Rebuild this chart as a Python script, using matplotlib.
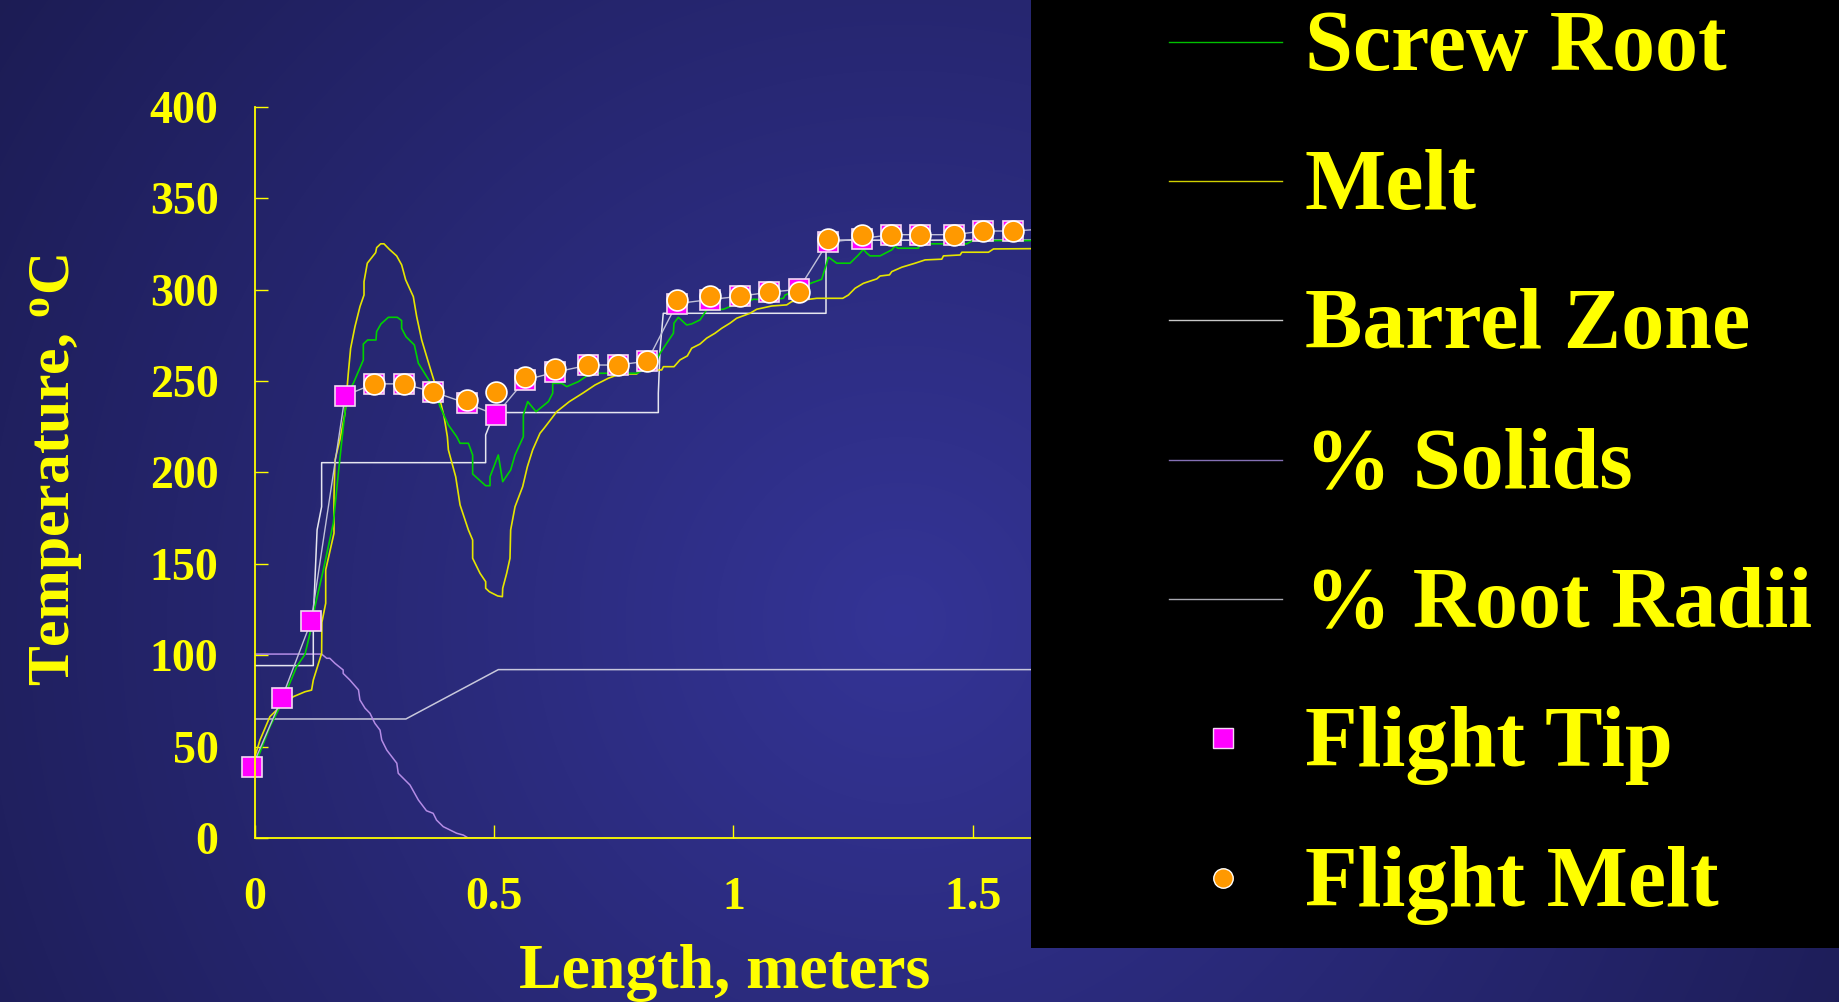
import numpy as np
import matplotlib.pyplot as plt

plt.rcParams['font.family'] = ['Liberation Serif', 'DejaVu Serif']
plt.rcParams['font.weight'] = 'bold'
plt.rcParams['mathtext.fontset'] = 'custom'
plt.rcParams['mathtext.rm'] = 'Liberation Serif:bold'
plt.rcParams['mathtext.it'] = 'Liberation Serif:bold'
plt.rcParams['mathtext.bf'] = 'Liberation Serif:bold'

YELLOW = '#ffff00'

# flight positions along the screw (m) and temperatures (C)
flight_x = [-0.005, 0.057, 0.118, 0.189, 0.249, 0.311, 0.373, 0.443, 0.504, 0.565,
            0.627, 0.697, 0.758, 0.820, 0.882, 0.951, 1.013, 1.074, 1.136, 1.198,
            1.268, 1.329, 1.390, 1.461, 1.522, 1.583, 1.645]
flight_tip = [39, 76.6, 118.5, 242, 248.4, 248.4, 244, 237.8, 231.4, 250.5,
              254.7, 258.7, 258.7, 260.8, 292.3, 294.5, 296.3, 298.5, 300.1, 326,
              327.8, 330, 330, 330, 332, 332, 333]
flight_melt_x = flight_x[4:26]
flight_melt = [248.4, 248.4, 244, 239.6, 244, 252.4, 256.6, 258.7, 258.7, 260.8,
               294.3, 296.4, 296.3, 298.5, 298.5, 327.7, 329.9, 330, 330, 330,
               332.2, 332]

melt_x = [0.0, 0.0113, 0.032, 0.0531, 0.0809, 0.1053, 0.119, 0.1226, 0.140, 0.1405,
          0.1485, 0.1485, 0.1658, 0.1658, 0.168, 0.178, 0.1888, 0.1957, 0.2006, 0.2096,
          0.2201, 0.2285, 0.2285, 0.2354, 0.2528, 0.2549, 0.2633, 0.2702, 0.2814, 0.2967,
          0.3071, 0.3155, 0.3315, 0.3385, 0.349, 0.3594, 0.3699, 0.3873, 0.3957, 0.4026,
          0.4047, 0.42, 0.4291, 0.4465, 0.4554, 0.4554, 0.4708, 0.4826, 0.4826, 0.4903,
          0.5077, 0.5175, 0.5182, 0.5265, 0.5334, 0.5348, 0.5439, 0.5599, 0.5697, 0.5808,
          0.5961, 0.6045, 0.6206, 0.631, 0.6574, 0.6853, 0.7111, 0.739, 0.7633, 0.7981,
          0.8051, 0.8503, 0.8538, 0.876, 0.8885, 0.9038, 0.9129, 0.9303, 0.9442, 0.9616,
          0.9755, 0.9929, 1.0068, 1.0347, 1.0486, 1.08, 1.1113, 1.1218, 1.1741, 1.2284,
          1.2402, 1.2542, 1.2716, 1.2994, 1.3064, 1.3259, 1.3308, 1.3517, 1.3795, 1.4004,
          1.4352, 1.4387, 1.4736, 1.4771, 1.5328, 1.5432, 1.65]
melt_t = [44, 53.6, 66.4, 71.8, 77.3, 80, 80.9, 86.4, 101, 118,
          128.4, 146.6, 166.7, 186.7, 206.8, 217.7, 232.3, 254.2, 267.9, 279.7,
          290.7, 297, 304.3, 314.4, 320.2, 322.9, 325, 325, 322, 318.4,
          313.5, 305.3, 296.1, 285.2, 272.4, 263.3, 254.2, 239.6, 230.5, 219.5,
          212.3, 197.6, 182.2, 168.5, 163, 153, 144.8, 140.2, 136.6, 134.7,
          132.4, 132, 136.6, 144.8, 153, 168.5, 181.2, 192.2, 203.1, 212.3,
          221.4, 224.1, 229.6, 233.2, 238.7, 243.3, 247.8, 251.5, 253.8, 253.8,
          256, 256, 257.8, 257.8, 261.5, 263.7, 267.9, 270.2, 273.4, 276.1,
          278.8, 281.6, 284.3, 287, 289.2, 291, 291.6, 293.4, 295.2, 295.2,
          297, 300.7, 303.4, 305.8, 307.4, 308, 309.8, 312.2, 314.4, 316.2,
          316.6, 318.4, 318.9, 320.4, 320.4, 322.2, 322.4]

root_x = [0.004, 0.0078, 0.032, 0.0531, 0.0704, 0.0878, 0.1053, 0.1157, 0.126, 0.1435,
          0.1644, 0.1749, 0.1853, 0.1937, 0.2062, 0.2271, 0.2271, 0.2361, 0.2535, 0.2549,
          0.264, 0.2793, 0.2981, 0.3071, 0.3071, 0.3162, 0.3336, 0.342, 0.3594, 0.3769,
          0.3873, 0.4047, 0.4221, 0.4291, 0.4465, 0.4554, 0.4554, 0.4826, 0.4917, 0.4917,
          0.509, 0.5182, 0.5348, 0.5439, 0.5613, 0.5613, 0.5704, 0.5878, 0.6136, 0.6226,
          0.6226, 0.6414, 0.6519, 0.6762, 0.6936, 0.7215, 0.7981, 0.8329, 0.8468, 0.8747,
          0.8759, 0.885, 0.9024, 0.9129, 0.9303, 0.9442, 0.9791, 0.9965, 1.0313, 1.0417,
          1.0765, 1.1044, 1.1079, 1.1358, 1.1614, 1.1844, 1.1949, 1.1984, 1.2158, 1.2436,
          1.2611, 1.2716, 1.2785, 1.2855, 1.3064, 1.3308, 1.3377, 1.3433, 1.3864, 1.39,
          1.4875, 1.5, 1.65]
root_t = [40, 44.5, 60.9, 71.8, 82.8, 93.7, 100.5, 112, 126.5, 146.6,
          172.2, 199.5, 225, 243.3, 248.7, 261.5, 270.2, 272.4, 272.4, 277,
          281.2, 284.8, 284.8, 283, 278.8, 274.2, 269.7, 259.7, 252.4, 245.1,
          236, 225.9, 219.5, 215.9, 215.9, 209.5, 199.1, 192.7, 192.7, 197.6,
          209.5, 194.9, 201.3, 209.5, 219.5, 231.4, 238.7, 233.2, 238.7, 243.3,
          248.7, 248.7, 246.9, 249.6, 252.7, 254.2, 254.2, 258.4, 265.1, 276.1,
          281.6, 284.8, 280.6, 281.2, 283.4, 288.8, 289.2, 291, 293.4, 294.7,
          294.3, 295.2, 297, 299.8, 303.4, 305.6, 314.4, 317.7, 314.4, 314.4,
          318.9, 322, 319.9, 318.4, 318.4, 321.7, 323.9, 322.6, 322.6, 325,
          325, 326.8, 326.8]

barrel_x = [0, 0.1226, 0.1226, 0.1305, 0.140, 0.140, 0.4826, 0.4826, 0.4917, 0.503,
            0.8432, 0.8432, 0.8468, 0.8535, 1.1934, 1.1934, 1.200, 1.65]
barrel_t = [94.3, 94.3, 120, 168.5, 181.2, 205.3, 205.3, 220.5, 226.5, 232.7,
            232.7, 243.3, 267, 287, 287, 319.9, 327, 327]

radii_x = [0, 0.316, 0.509, 1.65]
radii_pct = [65.1, 65.1, 92.1, 92.1]

solids_x = [0, 0.140, 0.1506, 0.157, 0.168, 0.185, 0.185, 0.199, 0.217, 0.220,
            0.2306, 0.241, 0.2513, 0.262, 0.2655, 0.276, 0.297, 0.300, 0.3245, 0.342,
            0.359, 0.373, 0.380, 0.394, 0.408, 0.422, 0.436, 0.446, 0.5]
solids_pct = [100.6, 100.6, 98.3, 98.3, 95.5, 91.9, 90, 86.4, 81, 75.5,
              71, 68.2, 62.7, 59, 53.6, 48.1, 40.9, 35.4, 29, 20.8,
              14.9, 13.5, 9.8, 6.2, 4.4, 2.6, 1.6, 0, 0]

fig = plt.figure(figsize=(18.39, 10.02), dpi=100)

# shaded slide background
bg = fig.add_axes([0, 0, 1, 1], zorder=-10)
hh, ww = 1002, 1839
yy, xx = np.mgrid[0:hh, 0:ww]
d = np.clip(np.hypot(xx - 900, yy - 620) / 1100, 0, 1)[..., None]
c0 = np.array([52, 52, 150]) / 255
c1 = np.array([28, 28, 84]) / 255
bg.imshow(c0 + (c1 - c0) * d, aspect='auto', extent=[0, 1, 0, 1])
bg.axis('off')

ax = fig.add_axes([254.6 / 1839, 1 - 838 / 1002, (1212.2 - 254.6) / 1839, (838 - 106.7) / 1002])
ax.set_facecolor('none')
ax.set_xlim(0, 2)
ax.set_ylim(0, 400)

ax.plot(radii_x, radii_pct, color='#c8c8dc', lw=1.1)
ax.plot(solids_x, solids_pct, color='#b48ce6', lw=1.1)
ax.plot(barrel_x, barrel_t, color='#e6e6f0', lw=1.1)
ax.plot(melt_x, melt_t, color='#e6e600', lw=1.2)
ax.plot(root_x, root_t, color='#00d200', lw=1.2)
ax.plot(flight_x, flight_tip, color='#c0c0d8', lw=1.0)
ax.plot(flight_x, flight_tip, ls='none', marker='s', ms=15, mfc='#ff00ff',
        mec='#f4d8f4', mew=1.2, clip_on=False)
ax.plot(flight_melt_x, flight_melt, ls='none', marker='o', ms=15, mfc='#ff9900',
        mec='#ffffff', mew=1.2)

ax.set_xticks([0, 0.5, 1, 1.5])
ax.set_xticklabels(['0', '0.5', '1', '1.5'])
ax.set_yticks(range(0, 401, 50))
ax.tick_params(direction='in', length=9.4, width=1, color=YELLOW,
               labelcolor=YELLOW, labelsize=33)
ax.tick_params(axis='y', pad=26)
ax.tick_params(axis='x', pad=28)
for s in ['top', 'right']:
    ax.spines[s].set_visible(False)
for s in ['left', 'bottom']:
    ax.spines[s].set_color(YELLOW)
    ax.spines[s].set_linewidth(1.3)

fig.text(725 / 1839, 1 - 988 / 1002, 'Length, meters', fontsize=46, color=YELLOW,
         ha='center', va='baseline')
fig.text(56 / 1839, 1 - 470 / 1002, r'Temperature, ${}^{\mathrm{o}}$C', fontsize=43,
         color=YELLOW, rotation=90, ha='center', va='center')

# legend panel
lax = fig.add_axes([1031 / 1839, 1 - 948 / 1002, 808 / 1839, 948 / 1002], zorder=5)
lax.set_facecolor('black')
lax.set_xlim(0, 1)
lax.set_ylim(0, 1)
lax.set_xticks([])
lax.set_yticks([])
for s in lax.spines.values():
    s.set_visible(False)

entries = [
    ('Screw Root', dict(color='#00c000')),
    ('Melt', dict(color='#d0d000')),
    ('Barrel Zone', dict(color='#c8c8c8')),
    ('% Solids', dict(color='#8470b4')),
    ('% Root Radii', dict(color='#a8a8b0')),
    ('Flight Tip', dict(marker='s', mfc='#ff00ff', mec='#f4d8f4')),
    ('Flight Melt', dict(marker='o', mfc='#ff9900', mec='#ffffff')),
]
for i, (label, style) in enumerate(entries):
    y = 0.956 - i * 0.147
    if 'marker' in style:
        lax.plot([0.2376], [y], ls='none', ms=14, mew=1, **style)
    else:
        lax.plot([0.1708, 0.3106], [y, y], lw=1, **style)
    lax.text(0.3391, y - 0.0295, label, fontsize=62, color=YELLOW, va='baseline')

fig.savefig('out.png', dpi=100)
